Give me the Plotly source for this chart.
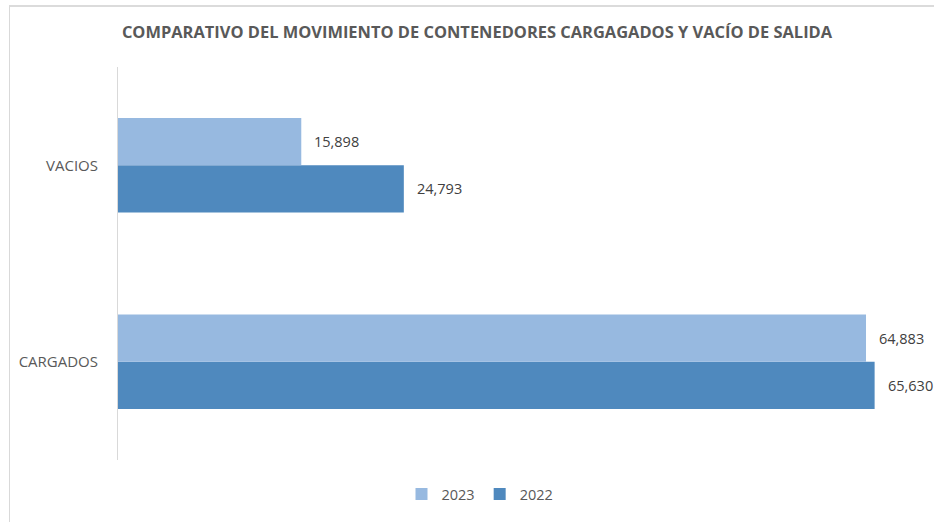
import plotly.graph_objects as go

categories = ["CARGADOS", "VACIOS"]
series_names = ["2022", "2023"]
values_2022 = [65630, 24793]
values_2023 = [64883, 15898]
colors = {"2022": "#4F89BE", "2023": "#97B9E0"}

W, H = 934, 522
L, R, T, B = 118, 9, 67, 62
pw, ph = W - L - R, H - T - B
FONT = "Open Sans, Lato, sans-serif"

fig = go.Figure()
series = [("2022", values_2022), ("2023", values_2023)]
for name, vals in series:
    fig.add_trace(go.Bar(
        y=categories, x=vals, name=name, orientation="h",
        marker=dict(color=colors[name], line=dict(width=0)),
        hoverinfo="x+name",
    ))

# data labels
ann = []
for si, (name, vals) in enumerate(series):
    for ci, v in enumerate(vals):
        ann.append(dict(
            x=v, y=ci + (-0.12 if name == "2022" else 0.12),
            xref="x", yref="y", text=f"{v:,}", showarrow=False,
            xanchor="left", yanchor="middle", xshift=11,
            font=dict(family=FONT, size=14.5, color="#404040"),
        ))

border = "#D9D9D9"
top_y = 1 + (T - 6) / ph
fig.update_layout(
    width=W, height=H,
    margin=dict(l=L, r=R, t=T, b=B, autoexpand=False),
    paper_bgcolor="white", plot_bgcolor="white",
    barmode="group", bargap=0.52, bargroupgap=0,
    title=dict(
        text="<b>COMPARATIVO DEL MOVIMIENTO DE CONTENEDORES CARGAGADOS Y VACÍO DE SALIDA</b>",
        x=477 / W, xanchor="center", y=1 - 32 / H, yanchor="middle",
        font=dict(family=FONT, size=16.45, color="#595959"),
    ),
    xaxis=dict(range=[0, 70000], showgrid=False, zeroline=False, showticklabels=False,
               showline=False, fixedrange=True),
    yaxis=dict(showgrid=False, zeroline=False, showline=True, linecolor=border,
               linewidth=1, ticks="", ticklabelstandoff=16,
               tickfont=dict(family=FONT, size=15, color="#595959")),
    legend=dict(orientation="h", x=(480 - L) / pw, xanchor="center",
                y=(H - B - 494) / ph, yanchor="middle", traceorder="reversed",
                font=dict(family=FONT, size=14.5, color="#595959"),
                itemwidth=30),
    showlegend=True,
    annotations=ann,
    shapes=[
        dict(type="line", xref="paper", yref="paper",
             x0=(9 - L) / pw, x1=(W + 20 - L) / pw,
             y0=top_y, y1=top_y,
             line=dict(color="#CFCFCF", width=1.5), layer="above"),
        dict(type="line", xref="paper", yref="paper",
             x0=(9.5 - L) / pw, x1=(9.5 - L) / pw,
             y0=top_y, y1=(H - B - (H + 20)) / ph,
             line=dict(color=border, width=1), layer="above"),
    ],
)

fig.write_html("out.html", config={"displayModeBar": False},
               post_script="document.body.style.margin='0';document.body.style.overflow='hidden';")
